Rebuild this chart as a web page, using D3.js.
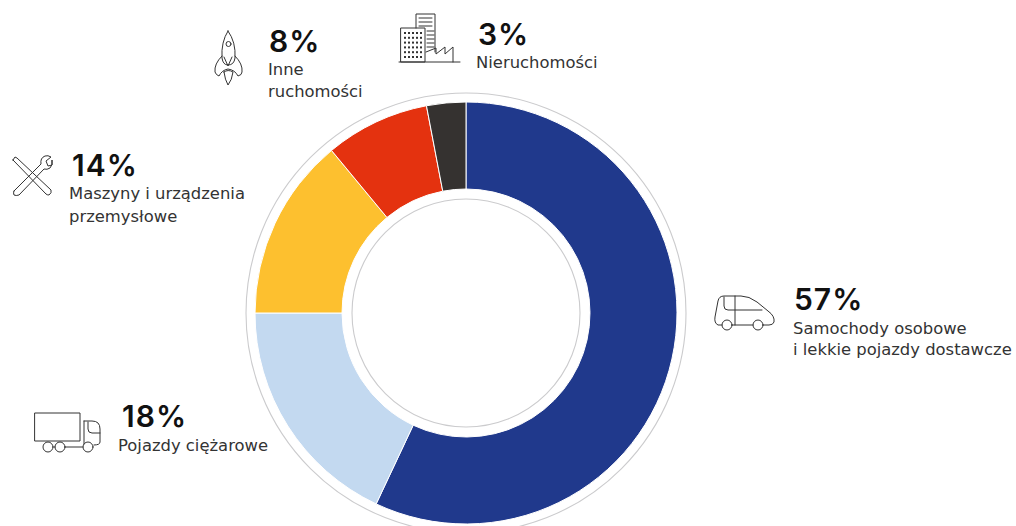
<!DOCTYPE html>
<html>
<head>
<meta charset="utf-8">
<script src="https://cdn.jsdelivr.net/npm/d3@7"></script>
<style>
  html, body { margin: 0; padding: 0; background: #fff; }
  svg { display: block; }
  text { font-family: Inter, sans-serif; }
  .name { font-family: "DejaVu Sans", sans-serif; }
</style>
</head>
<body>
<div id="chart"></div>
<script>
// values, clockwise from 12 o'clock
const shares = [57, 18, 14, 8, 3];
const shareLabels = ['57%', '18%', '14%', '8%', '3%'];
const names = [
  ['Samochody osobowe', 'i lekkie pojazdy dostawcze'],
  ['Pojazdy ciężarowe'],
  ['Maszyny i urządzenia', 'przemysłowe'],
  ['Inne', 'ruchomości'],
  ['Nieruchomości']
];
const colors = ['#20398c', '#c3d9f0', '#fdc02f', '#e4320f', '#353230'];

const width = 1016;
const height = 526;
const cx = 466;
const cy = 313;

// where each label sits: big number and the lines below it
const labelPos = [
  { x: 794, y: 310, sx: 793, sy: [334, 355] },
  { x: 122, y: 427, sx: 118, sy: [451] },
  { x: 72, y: 176, sx: 69, sy: [199, 222] },
  { x: 269, y: 52, sx: 268, sy: [75, 97] },
  { x: 478, y: 45, sx: 476, sy: [68] }
];

const svg = d3.select('#chart')
  .append('svg')
  .attr('width', width)
  .attr('height', height);

const donut = svg.append('g')
  .attr('transform', `translate(${cx}, ${cy})`);

// thin grey rings outside and inside the donut
donut.selectAll('.ring')
  .data([220, 114])
  .enter()
  .append('circle')
  .attr('class', 'ring')
  .attr('r', d => d)
  .attr('fill', 'none')
  .attr('stroke', '#cbcbcd')
  .attr('stroke-width', 1.1);

const pie = d3.pie().sort(null).value(d => d);
const arc = d3.arc().innerRadius(124).outerRadius(211);

donut.selectAll('.slice')
  .data(pie(shares))
  .enter()
  .append('path')
  .attr('class', 'slice')
  .attr('d', arc)
  .attr('fill', (d, i) => colors[i])
  .attr('stroke', '#fff')
  .attr('stroke-width', 1);

// labels
const labels = svg.selectAll('.label')
  .data(shares)
  .enter()
  .append('g')
  .attr('class', 'label');

labels.append('text')
  .attr('x', (d, i) => labelPos[i].x)
  .attr('y', (d, i) => labelPos[i].y)
  .attr('font-size', 30)
  .attr('font-weight', 600)
  .attr('letter-spacing', 1)
  .attr('fill', '#111')
  .text((d, i) => shareLabels[i]);

labels.each(function (d, i) {
  d3.select(this).selectAll('.name')
    .data(names[i])
    .enter()
    .append('text')
    .attr('class', 'name')
    .attr('x', labelPos[i].sx)
    .attr('y', (n, j) => labelPos[i].sy[j])
    .attr('font-size', 16.4)
    .attr('fill', '#333')
    .text(n => n);
});

// line icons
const icons = svg.append('g')
  .attr('fill', 'none')
  .attr('stroke', '#333')
  .attr('stroke-width', 1)
  .attr('stroke-linecap', 'round')
  .attr('stroke-linejoin', 'round');

function paths(list) {
  list.forEach(p => icons.append('path').attr('d', p));
}
function rings(list) {
  list.forEach(c => icons.append('circle').attr('cx', c[0]).attr('cy', c[1]).attr('r', c[2]));
}

// car
paths([
  'M722 325 H718 Q714 323 715 317 L718 301 Q719 296 724 296 H741 Q749 296 757 302 L768 311 Q775 316 774 322 Q773 325 769 325 H763',
  'M732 325 H753',
  'M735 296 V325',
  'M724 297 V306 Q724 310 728 310 H762'
]);
rings([[727, 325, 5], [758, 325, 5]]);

// truck
paths([
  'M35 413 H80 V441 H35 Z',
  'M84 421 H92 Q100 421 100 429 V442 Q100 445 94 445',
  'M84 421 V444',
  'M88 422 V429 Q88 433 92 433 H100',
  'M65 447 H83',
  'M54 447 H55'
]);
rings([[48, 447, 5], [60, 447, 5], [88, 447, 5]]);

// spanner and screwdriver
paths([
  'M13 160 L15 157 L17 158 L51 190 Q52 193 49 195 Q47 195 46 194 L13 160 Z',
  'M14 191 L41 164 Q40 158 45 156 Q48 155 51 157 L46 161 L48 166 L52 165 L52 160 Q53 165 50 168 Q47 170 44 169 L19 195 Q16 196 14 195 Q13 193 14 191 Z'
]);

// rocket
paths([
  'M228 31 Q221 42 222 58 Q223 65 228 65 Q234 65 235 58 Q236 42 228 31 Z',
  'M222 56 Q214 64 215 72 Q216 75 219 76 Q222 70 228 69 Q235 70 238 76 Q242 75 242 72 Q243 64 235 56',
  'M224 57 L228 66 L232 57',
  'M224 72 Q225 80 228 85 Q232 80 233 72 Q228 69 224 72 Z'
]);
rings([[228.5, 44, 2.5]]);

// buildings
paths([
  'M416 28 V14 H435 V52',
  'M419 18 H432 M419 22 H432 M419 26 H432 M427 31 H434 M427 35 H434 M427 39 H434 M427 43 H434 M427 47 H434',
  'M401 28 H425 V62 H401 Z',
  'M399 62 H460',
  'M426 52 L436 48 V54 L445 47 V54 L453 47 V62'
]);
// window dots of the front building
const dotRows = d3.range(6);
const dotCols = d3.range(5);
dotRows.forEach(r => dotCols.forEach(c => {
  svg.append('rect')
    .attr('x', 404 + c * 4)
    .attr('y', 32 + r * 4.8)
    .attr('width', 2)
    .attr('height', 2)
    .attr('fill', '#333');
}));
</script>
</body>
</html>
